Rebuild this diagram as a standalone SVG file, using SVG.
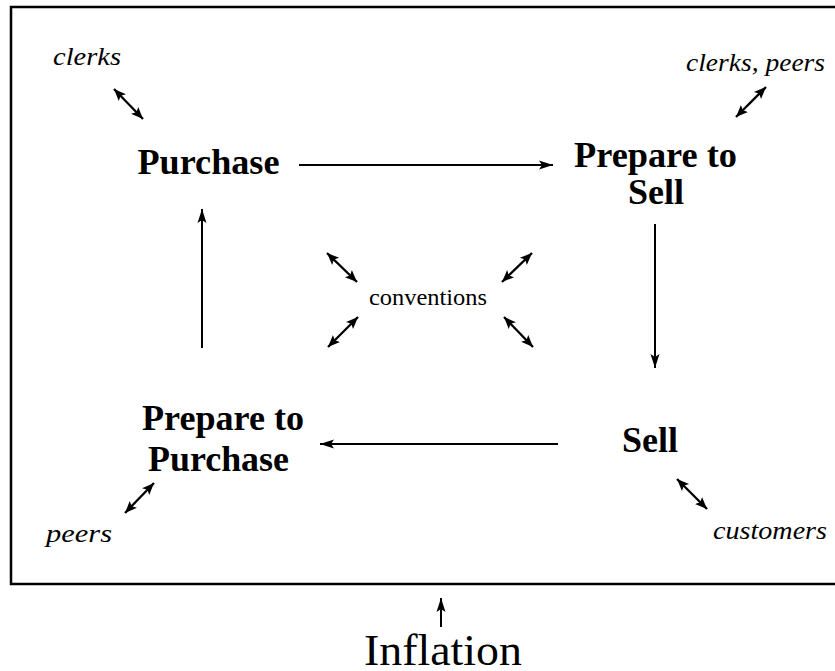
<svg xmlns="http://www.w3.org/2000/svg" width="835" height="671" viewBox="0 0 835 671">
  <style>
    .frame { fill: none; stroke: #000; stroke-width: 2.5; }
    .node { font-family: "Liberation Serif", "Times New Roman", Times, serif; font-weight: bold; font-size: 36px; fill: #000; text-anchor: middle; }
    .actor { font-family: "Liberation Serif", "Times New Roman", Times, serif; font-style: italic; font-size: 25px; fill: #000; }
    .conv { font-family: "Liberation Serif", "Times New Roman", Times, serif; font-size: 24px; fill: #000; }
    .big { font-family: "Liberation Serif", "Times New Roman", Times, serif; font-size: 45px; fill: #000; text-anchor: middle; }
    .flow { stroke: #000; stroke-width: 2; fill: none; marker-end: url(#head); }
    .link { stroke: #000; stroke-width: 2.3; fill: none; marker-start: url(#tail); marker-end: url(#head2); }
  </style>
  <defs>
    <marker id="head" markerUnits="userSpaceOnUse" markerWidth="16" markerHeight="12" refX="14" refY="6" orient="auto">
      <path d="M0,1.5 L14,6 L0,10.5 L3,6 Z" fill="#000"/>
    </marker>
    <marker id="head2" markerUnits="userSpaceOnUse" markerWidth="14" markerHeight="14" refX="12" refY="7" orient="auto">
      <path d="M0,2 L12,7 L0,12 L2.5,7 Z" fill="#000"/>
    </marker>
    <marker id="tail" markerUnits="userSpaceOnUse" markerWidth="14" markerHeight="14" refX="0" refY="7" orient="auto">
      <path d="M12,2 L0,7 L12,12 L9.5,7 Z" fill="#000"/>
    </marker>
  </defs>

  <rect width="835" height="671" fill="#fff"/>
  <!-- outer frame, open on the right -->
  <path class="frame" d="M840,7 L11,7 L11,584 L840,584"/>

  <g id="purchase">
    <text class="node" x="208.5" y="174" textLength="142" lengthAdjust="spacingAndGlyphs">Purchase</text>
  </g>
  <g id="prepare-to-sell">
    <text class="node" x="655.5" y="167" textLength="163" lengthAdjust="spacingAndGlyphs">Prepare to</text>
    <text class="node" x="656" y="204" textLength="56" lengthAdjust="spacingAndGlyphs">Sell</text>
  </g>
  <g id="sell">
    <text class="node" x="650" y="452" textLength="56" lengthAdjust="spacingAndGlyphs">Sell</text>
  </g>
  <g id="prepare-to-purchase">
    <text class="node" x="223" y="430" textLength="162" lengthAdjust="spacingAndGlyphs">Prepare to</text>
    <text class="node" x="218.5" y="471" textLength="141" lengthAdjust="spacingAndGlyphs">Purchase</text>
  </g>

  <g id="clerks">
    <text class="actor" x="53" y="65" textLength="68" lengthAdjust="spacingAndGlyphs">clerks</text>
  </g>
  <g id="clerks-peers">
    <text class="actor" x="686" y="71" textLength="139" lengthAdjust="spacingAndGlyphs">clerks, peers</text>
  </g>
  <g id="peers">
    <text class="actor" x="46" y="542" textLength="66" lengthAdjust="spacingAndGlyphs">peers</text>
  </g>
  <g id="customers">
    <text class="actor" x="713" y="539" textLength="114" lengthAdjust="spacingAndGlyphs">customers</text>
  </g>
  <g id="conventions">
    <text class="conv" x="369" y="305" textLength="118" lengthAdjust="spacingAndGlyphs">conventions</text>
  </g>
  <g id="inflation">
    <text class="big" x="443" y="665" textLength="158" lengthAdjust="spacingAndGlyphs">Inflation</text>
  </g>

  <g id="connectors">
    <!-- process cycle -->
    <line class="flow" x1="299" y1="165" x2="553" y2="165"/>
    <line class="flow" x1="655" y1="224" x2="655" y2="368"/>
    <line class="flow" x1="558" y1="444" x2="320" y2="444"/>
    <line class="flow" x1="202" y1="348" x2="202" y2="209"/>
    <!-- external influence -->
    <line class="flow" x1="441" y1="627" x2="441" y2="598"/>
    <!-- two-way relations -->
    <line class="link" x1="114" y1="89" x2="143" y2="119"/>
    <line class="link" x1="766" y1="87" x2="736" y2="117"/>
    <line class="link" x1="154" y1="483" x2="125" y2="513"/>
    <line class="link" x1="677" y1="479" x2="707" y2="509"/>
    <line class="link" x1="327" y1="253" x2="357" y2="282"/>
    <line class="link" x1="532" y1="253" x2="502" y2="282"/>
    <line class="link" x1="358" y1="317" x2="328" y2="347"/>
    <line class="link" x1="504" y1="317" x2="533" y2="347"/>
  </g>
</svg>
